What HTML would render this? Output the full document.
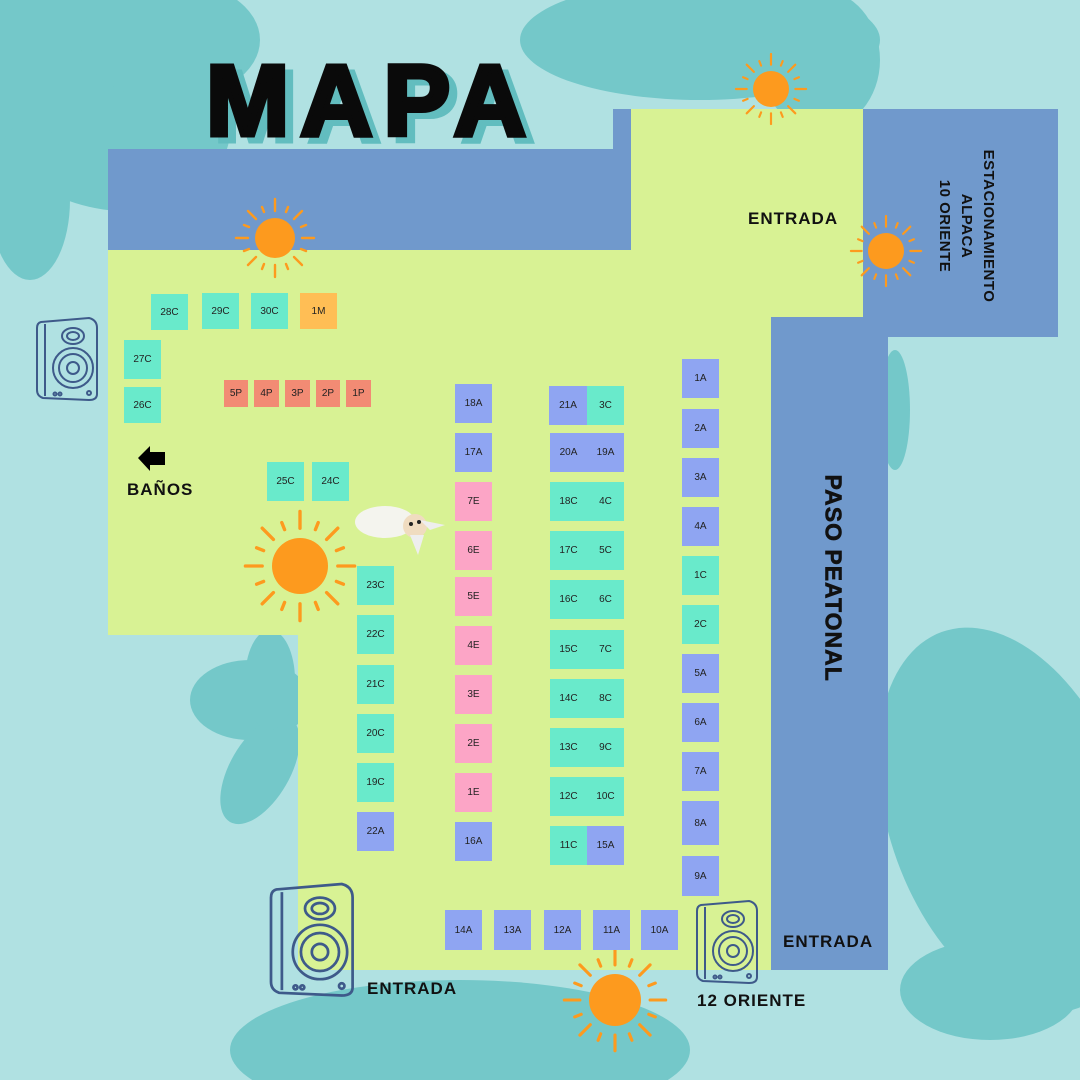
<!DOCTYPE html>
<html><head><meta charset="utf-8"><style>
*{margin:0;padding:0;box-sizing:border-box}
body{width:1080px;height:1080px;position:relative;overflow:hidden;background:#b0e1e2;font-family:"Liberation Sans",sans-serif}
.a{position:absolute}
.s{position:absolute;width:37px;height:38px;display:flex;align-items:center;justify-content:center;font-size:10px;color:#222}
.t{background:#69eacb}.b{background:#8fa5f2}.p{background:#fca5c6}.r{background:#f28b74}.o{background:#ffbe55}
.lbl{position:absolute;font-weight:900;font-size:18px;color:#111;letter-spacing:1px}
.v{position:absolute;font-weight:900;color:#111;transform:rotate(90deg);white-space:nowrap;text-align:center}
</style></head><body>
<svg class="a" style="left:0;top:0" width="1080" height="1080">
<g fill="#74c8c9">
<ellipse cx="90" cy="90" rx="150" ry="110" transform="rotate(30 90 90)"/>
<ellipse cx="30" cy="200" rx="40" ry="80"/>
<ellipse cx="170" cy="40" rx="90" ry="60"/>
<ellipse cx="700" cy="40" rx="180" ry="60"/>
<ellipse cx="820" cy="60" rx="60" ry="70"/>
<ellipse cx="1010" cy="820" rx="120" ry="200" transform="rotate(-20 1010 820)"/>
<ellipse cx="990" cy="990" rx="90" ry="50"/>
<ellipse cx="460" cy="1050" rx="230" ry="70"/>
<ellipse cx="250" cy="700" rx="60" ry="40"/>
<ellipse cx="260" cy="770" rx="30" ry="60" transform="rotate(30 260 770)"/>
<ellipse cx="270" cy="680" rx="25" ry="50"/>
<ellipse cx="895" cy="410" rx="15" ry="60"/>
</g>
<polygon fill="#d8f294" points="108,250 631,250 631,109 863,109 863,317 771,317 771,970 298,970 298,635 108,635"/>
<polygon fill="#7099cc" points="108,149 613,149 613,109 631,109 631,250 108,250"/>
<rect fill="#7099cc" x="863" y="109" width="195" height="228"/>
<rect fill="#7099cc" x="771" y="317" width="117" height="653"/>
<defs>
<g id="sun">
<circle r="1" fill="#fd9a1e"/>
<g stroke="#fd9a1e" stroke-width="0.12" stroke-linecap="round">
<line x1="0" y1="-1.35" x2="0" y2="-1.95"/><line x1="0" y1="1.35" x2="0" y2="1.95"/>
<line x1="-1.35" y1="0" x2="-1.95" y2="0"/><line x1="1.35" y1="0" x2="1.95" y2="0"/>
<line x1="0.95" y1="0.95" x2="1.35" y2="1.35"/><line x1="-0.95" y1="0.95" x2="-1.35" y2="1.35"/>
<line x1="0.95" y1="-0.95" x2="1.35" y2="-1.35"/><line x1="-0.95" y1="-0.95" x2="-1.35" y2="-1.35"/>
<line x1="0.55" y1="1.3" x2="0.65" y2="1.55"/><line x1="-0.55" y1="1.3" x2="-0.65" y2="1.55"/>
<line x1="0.55" y1="-1.3" x2="0.65" y2="-1.55"/><line x1="-0.55" y1="-1.3" x2="-0.65" y2="-1.55"/>
<line x1="1.3" y1="0.55" x2="1.55" y2="0.65"/><line x1="-1.3" y1="0.55" x2="-1.55" y2="0.65"/>
<line x1="1.3" y1="-0.55" x2="1.55" y2="-0.65"/><line x1="-1.3" y1="-0.55" x2="-1.55" y2="-0.65"/>
</g></g>
<g id="spk" fill="none" stroke="#3e5a8a" stroke-width="2">
<path d="M4,4 L52,0 Q60,2 60,10 L60,76 Q60,82 52,82 L6,80 Q0,78 0,72 L0,10 Q0,5 4,4Z"/>
<path d="M8,6 L8,78"/>
<ellipse cx="36" cy="18" rx="11" ry="8"/><ellipse cx="36" cy="18" rx="6" ry="4"/>
<circle cx="36" cy="50" r="20"/><circle cx="36" cy="50" r="14"/><circle cx="36" cy="50" r="6"/>
<circle cx="52" cy="75" r="2"/><circle cx="18" cy="76" r="1.5"/><circle cx="23" cy="76" r="1.5"/>
</g>
</defs>
<use href="#sun" transform="translate(275,238) scale(20)"/>
<use href="#sun" transform="translate(771,89) scale(18)"/>
<use href="#sun" transform="translate(886,251) scale(18)"/>
<use href="#sun" transform="translate(300,566) scale(28)"/>
<use href="#sun" transform="translate(615,1000) scale(26)"/>
<use href="#spk" transform="translate(37,318)"/>
<use href="#spk" transform="translate(271,884) scale(1.36,1.36)"/>
<use href="#spk" transform="translate(697,901)"/>
<path d="M138,458 L150,446 L150,452 L165,452 L165,465 L150,465 L150,471Z" fill="#000"/>
<g>
<ellipse cx="385" cy="522" rx="30" ry="16" fill="#f4f4ee"/>
<circle cx="415" cy="526" r="12" fill="#f0dcc0"/>
<path d="M420,520 L445,525 L430,530Z" fill="#eee"/>
<path d="M410,535 L418,555 L424,535Z" fill="#eee"/>
<circle cx="411" cy="524" r="2" fill="#222"/><circle cx="419" cy="522" r="2" fill="#222"/>
</g>
</svg>
<div class="a" style="left:214px;top:50px;font-size:100px;font-weight:900;color:#62bdbf;letter-spacing:11px;-webkit-text-stroke:5px #62bdbf">MAPA</div>
<div class="a" style="left:206px;top:44px;font-size:100px;font-weight:900;color:#0a0a0a;letter-spacing:11px;-webkit-text-stroke:5px #0a0a0a">MAPA</div>

<div class="lbl" style="left:748px;top:209px;font-size:17px">ENTRADA</div>
<div class="lbl" style="left:783px;top:932px;font-size:17px">ENTRADA</div>
<div class="lbl" style="left:367px;top:979px;font-size:17px">ENTRADA</div>
<div class="lbl" style="left:697px;top:991px;font-size:17px">12 ORIENTE</div>
<div class="lbl" style="left:127px;top:480px;font-size:17px">BAÑOS</div>
<div class="v" style="left:733px;top:561px;width:200px;font-size:23px;letter-spacing:1px;-webkit-text-stroke:0.6px #111">PASO PEATONAL</div>
<div class="v" style="left:886px;top:193px;width:160px;font-size:15px;line-height:22px;letter-spacing:0.5px">ESTACIONAMIENTO<br>ALPACA<br>10 ORIENTE</div>

<div class="s t" style="left:151px;top:294px;height:36px">28C</div>
<div class="s t" style="left:202px;top:293px;height:36px">29C</div>
<div class="s t" style="left:251px;top:293px;height:36px">30C</div>
<div class="s o" style="left:300px;top:293px;height:36px">1M</div>
<div class="s t" style="left:124px;top:340px;height:39px">27C</div>
<div class="s t" style="left:124px;top:387px;height:36px">26C</div>
<div class="s r" style="left:224px;top:380px;width:24px;height:27px">5P</div>
<div class="s r" style="left:254px;top:380px;width:25px;height:27px">4P</div>
<div class="s r" style="left:285px;top:380px;width:25px;height:27px">3P</div>
<div class="s r" style="left:316px;top:380px;width:24px;height:27px">2P</div>
<div class="s r" style="left:346px;top:380px;width:25px;height:27px">1P</div>
<div class="s t" style="left:267px;top:462px;height:39px">25C</div>
<div class="s t" style="left:312px;top:462px;height:39px">24C</div>

<div class="s b" style="left:455px;top:384px;height:39px">18A</div>
<div class="s b" style="left:455px;top:433px;height:39px">17A</div>
<div class="s p" style="left:455px;top:482px;height:39px">7E</div>
<div class="s p" style="left:455px;top:531px;height:39px">6E</div>
<div class="s p" style="left:455px;top:577px;height:39px">5E</div>
<div class="s p" style="left:455px;top:626px;height:39px">4E</div>
<div class="s p" style="left:455px;top:675px;height:39px">3E</div>
<div class="s p" style="left:455px;top:724px;height:39px">2E</div>
<div class="s p" style="left:455px;top:773px;height:39px">1E</div>
<div class="s b" style="left:455px;top:822px;height:39px">16A</div>

<div class="s t" style="left:357px;top:566px;height:39px">23C</div>
<div class="s t" style="left:357px;top:615px;height:39px">22C</div>
<div class="s t" style="left:357px;top:665px;height:39px">21C</div>
<div class="s t" style="left:357px;top:714px;height:39px">20C</div>
<div class="s t" style="left:357px;top:763px;height:39px">19C</div>
<div class="s b" style="left:357px;top:812px;height:39px">22A</div>

<div class="s b" style="left:549px;top:386px;width:38px;height:39px">21A</div><div class="s t" style="left:587px;top:386px;height:39px">3C</div>
<div class="s b" style="left:550px;top:433px;height:39px">20A</div><div class="s b" style="left:587px;top:433px;height:39px">19A</div>
<div class="s t" style="left:550px;top:482px;height:39px">18C</div><div class="s t" style="left:587px;top:482px;height:39px">4C</div>
<div class="s t" style="left:550px;top:531px;height:39px">17C</div><div class="s t" style="left:587px;top:531px;height:39px">5C</div>
<div class="s t" style="left:550px;top:580px;height:39px">16C</div><div class="s t" style="left:587px;top:580px;height:39px">6C</div>
<div class="s t" style="left:550px;top:630px;height:39px">15C</div><div class="s t" style="left:587px;top:630px;height:39px">7C</div>
<div class="s t" style="left:550px;top:679px;height:39px">14C</div><div class="s t" style="left:587px;top:679px;height:39px">8C</div>
<div class="s t" style="left:550px;top:728px;height:39px">13C</div><div class="s t" style="left:587px;top:728px;height:39px">9C</div>
<div class="s t" style="left:550px;top:777px;height:39px">12C</div><div class="s t" style="left:587px;top:777px;height:39px">10C</div>
<div class="s t" style="left:550px;top:826px;height:39px">11C</div><div class="s b" style="left:587px;top:826px;height:39px">15A</div>

<div class="s b" style="left:682px;top:359px;height:39px">1A</div>
<div class="s b" style="left:682px;top:409px;height:39px">2A</div>
<div class="s b" style="left:682px;top:458px;height:39px">3A</div>
<div class="s b" style="left:682px;top:507px;height:39px">4A</div>
<div class="s t" style="left:682px;top:556px;height:39px">1C</div>
<div class="s t" style="left:682px;top:605px;height:39px">2C</div>
<div class="s b" style="left:682px;top:654px;height:39px">5A</div>
<div class="s b" style="left:682px;top:703px;height:39px">6A</div>
<div class="s b" style="left:682px;top:752px;height:39px">7A</div>
<div class="s b" style="left:682px;top:801px;height:44px">8A</div>
<div class="s b" style="left:682px;top:856px;height:40px">9A</div>

<div class="s b" style="left:445px;top:910px;height:40px">14A</div>
<div class="s b" style="left:494px;top:910px;height:40px">13A</div>
<div class="s b" style="left:544px;top:910px;height:40px">12A</div>
<div class="s b" style="left:593px;top:910px;height:40px">11A</div>
<div class="s b" style="left:641px;top:910px;height:40px">10A</div>
</body></html>
